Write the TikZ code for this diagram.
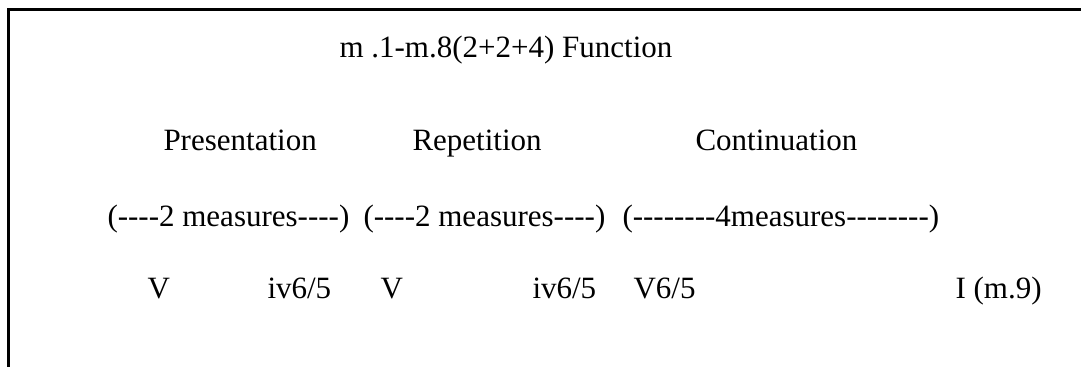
\documentclass[tikz,border=0pt]{standalone}
\usepackage{fontspec}
\setmainfont{Liberation Serif}[Ligatures=TeXOff]
\usetikzlibrary{positioning}

\begin{document}
\begin{tikzpicture}
        [x=0.4pt, y=-0.4pt, line cap=rect,
        % Styles
        frame line/.style={line width=1.2pt},
        plain text/.style={anchor=base west, inner sep=0pt, font=\fontsize{12.4}{15}\selectfont}]

        \useasboundingbox (0, 0) rectangle (1081, 367);

        % The frame
        \draw[frame line] (1081, 9) -- (8, 9) -- (8, 367);

        % Heading
        \node[plain text] (title) at (339, 57) {m .1-m.8(2+2+4) Function};

        % Functions
        \node[plain text] (presentation) at (163, 150) {Presentation};
        \node[plain text] (repetition) at (412, 150) {Repetition};
        \node[plain text] (continuation) at (695, 150) {Continuation};

        % Spans
        \node[plain text] (span1) at (107, 226) {(----2 measures----)};
        \node[plain text] (span2) at (363, 226) {(----2 measures----)};
        \node[plain text] (span3) at (622, 226) {(--------4measures--------)};

        % Harmonies
        \foreach \x/\chord [count=\i] in {147/V, 267/iv6\slash 5, 380/V, 532/iv6\slash 5, 633/V6\slash 5, 955/I (m.9)}
                \node[plain text] (chord\i) at (\x, 298) {\chord};
\end{tikzpicture}
\end{document}
